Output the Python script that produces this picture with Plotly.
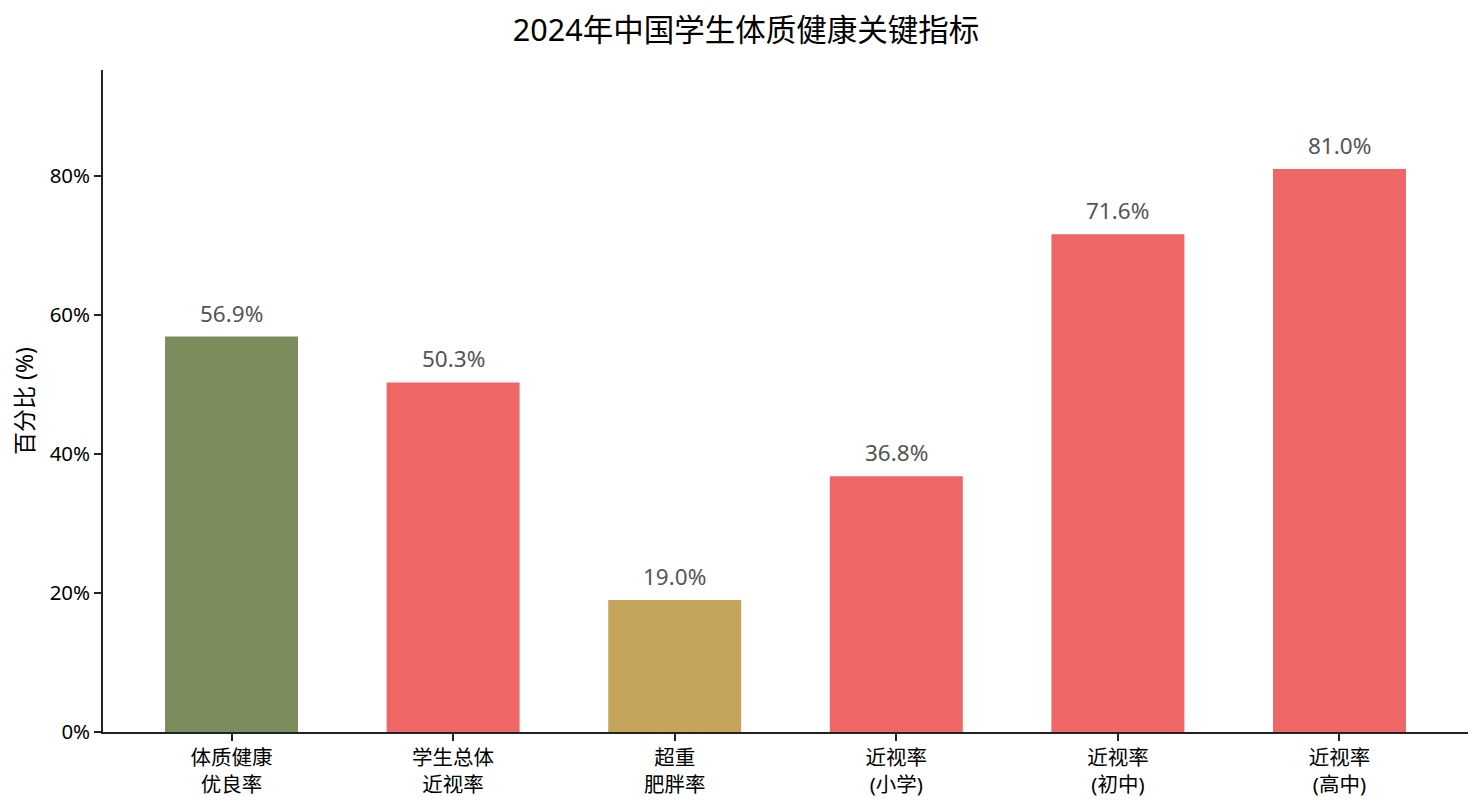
import plotly.graph_objects as go

categories = ["体质健康<br>优良率", "学生总体<br>近视率", "超重<br>肥胖率", "近视率<br>(小学)", "近视率<br>(初中)", "近视率<br>(高中)"]
values = [56.9, 50.3, 19.0, 36.8, 71.6, 81.0]
bar_colors = ["#7A8B5C", "#EE6666", "#C4A35A", "#EE6666", "#EE6666", "#EE6666"]
y_ticks = [0, 20, 40, 60, 80]
y_tick_labels = ["0%", "20%", "40%", "60%", "80%"]

FONT = "Noto Sans, Noto Sans CJK SC, sans-serif"

x_idx = list(range(len(categories)))

fig = go.Figure()
fig.add_trace(go.Bar(
    x=x_idx, y=values, width=0.6,
    marker=dict(color=bar_colors, line=dict(width=0)),
    hoverinfo="skip",
))

for xi, v in zip(x_idx, values):
    fig.add_annotation(
        x=xi, y=v, text=f"{v:.1f}%", showarrow=False,
        yanchor="bottom", yshift=6,
        font=dict(family=FONT, size=22.5, color="#555555"),
    )

fig.update_layout(
    width=1476, height=801,
    margin=dict(l=95, r=16, t=62, b=77),
    paper_bgcolor="white", plot_bgcolor="white",
    showlegend=False,
    title=dict(text="2024年中国学生体质健康关键指标", x=0.5, xanchor="center",
               y=0.9725, yanchor="middle",
               font=dict(family=FONT, size=30.5, color="black")),
    font=dict(family=FONT, color="black"),
)
fig.update_xaxes(
    range=[-0.58, 5.58], tickmode="array", tickvals=x_idx, ticktext=categories,
    showline=True, linecolor="#222222", linewidth=1.5,
    ticks="outside", ticklen=7, tickcolor="#222222", tickwidth=1.5,
    showgrid=False, zeroline=False,
    tickfont=dict(family=FONT, size=20.5, color="black"),
)
fig.update_yaxes(
    range=[0, 95.25], tickmode="array", tickvals=y_ticks, ticktext=y_tick_labels,
    showline=True, linecolor="#222222", linewidth=1.5,
    ticks="outside", ticklen=7, tickcolor="#222222", tickwidth=1.5,
    showgrid=False, zeroline=False,
    tickfont=dict(family=FONT, size=20.5, color="black"),
    title=dict(text="百分比 (%)", font=dict(family=FONT, size=23, color="black"), standoff=12),
)

fig.write_html("out.html")
